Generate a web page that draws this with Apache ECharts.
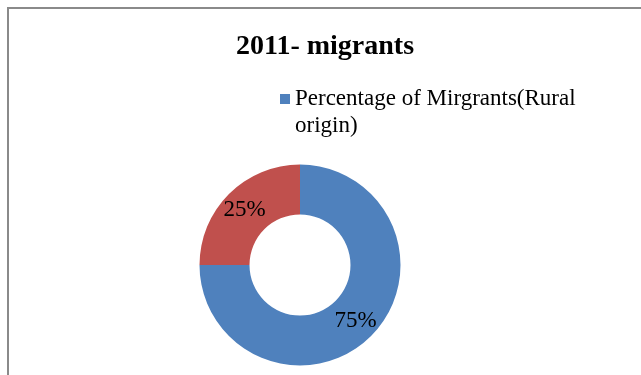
<!DOCTYPE html>
<html>
<head>
<meta charset="utf-8">
<script src="https://cdn.jsdelivr.net/npm/echarts@6/dist/echarts.min.js"></script>
<style>
html,body{margin:0;padding:0;background:#fff;}
#main{width:641px;height:375px;}
</style>
</head>
<body>
<div id="main"></div>
<script>
const titleText = '2011- migrants';
const categories = ['Percentage of Mirgrants(Rural origin)', 'Other'];
const values = [75, 25];
const colors = ['#4F81BD', '#C0504D'];

const chart = echarts.init(document.getElementById('main'), null, {renderer: 'canvas'});
chart.setOption({
  backgroundColor: '#fff',
  animation: false,
  graphic: [{
    type: 'rect',
    shape: {x: 8, y: 8, width: 800, height: 600},
    style: {fill: null, stroke: '#8a8a8a', lineWidth: 2},
    silent: true
  }],
  title: {
    text: titleText,
    left: 325,
    textAlign: 'center',
    top: 33,
    padding: 0,
    textStyle: {fontFamily: 'Liberation Serif', fontWeight: 'bold', fontSize: 28, color: '#000'}
  },
  legend: {
    data: [categories[0]],
    left: 280,
    top: 58.5,
    padding: 0,
    orient: 'vertical',
    icon: 'rect',
    itemWidth: 10,
    itemHeight: 10,
    formatter: function (name) { return '\n' + name.replace('(Rural ', '(Rural\n'); },
    textStyle: {fontFamily: 'Liberation Serif', fontSize: 23, color: '#000', lineHeight: 27}
  },
  series: [{
    type: 'pie',
    center: [300, 265],
    radius: [50.5, 100.5],
    startAngle: 90,
    clockwise: true,
    label: {
      show: true,
      position: 'inside',
      formatter: '{d}%',
      fontFamily: 'Liberation Serif',
      fontSize: 23,
      color: '#000'
    },
    labelLine: {show: false},
    emphasis: {disabled: true},
    data: categories.map((c, i) => ({name: c, value: values[i], itemStyle: {color: colors[i]}}))
  }]
});
</script>
</body>
</html>
